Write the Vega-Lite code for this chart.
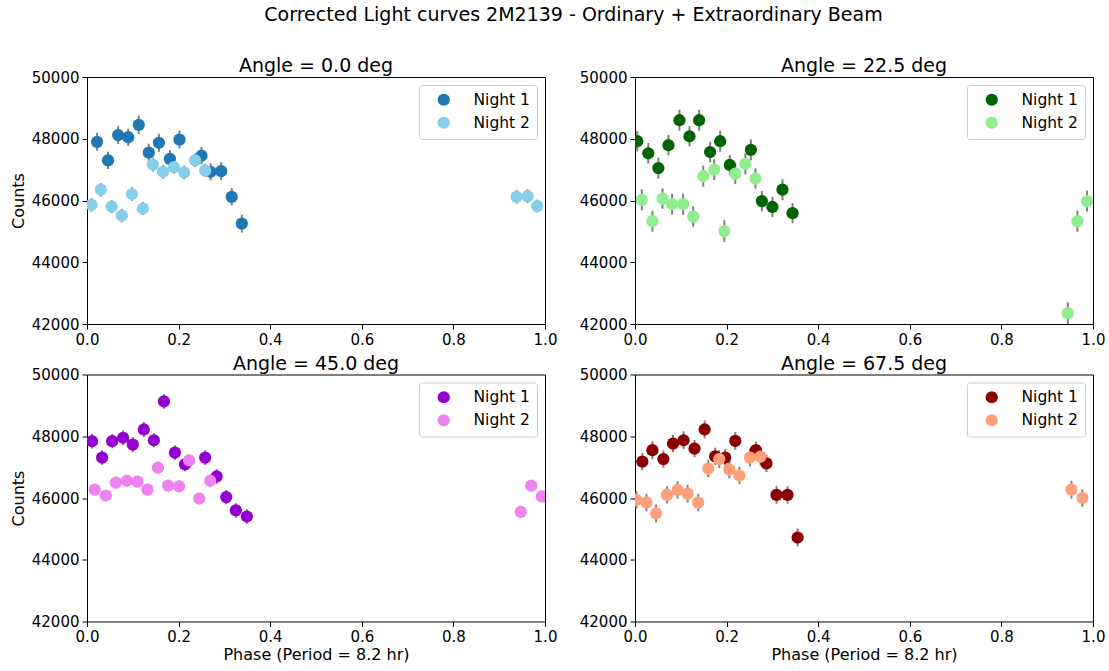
{
  "$schema": "https://vega.github.io/schema/vega-lite/v6.json",
  "autosize": {"type": "none"},
  "padding": {"left": 87, "top": 77, "right": 1022, "bottom": 594},
  "title": {
    "text": "Corrected Light curves 2M2139 - Ordinary + Extraordinary Beam",
    "frame": "group",
    "anchor": "middle",
    "dx": 486.5,
    "offset": 32,
    "fontSize": 19
  },
  "datasets": {
    "lc": [
      {"angle": 0, "night": "Night 1", "phase": 0.022, "counts": 47900, "err": 290},
      {"angle": 0, "night": "Night 1", "phase": 0.046, "counts": 47300, "err": 280},
      {"angle": 0, "night": "Night 1", "phase": 0.068, "counts": 48120, "err": 290},
      {"angle": 0, "night": "Night 1", "phase": 0.090, "counts": 48050, "err": 280},
      {"angle": 0, "night": "Night 1", "phase": 0.113, "counts": 48450, "err": 300},
      {"angle": 0, "night": "Night 1", "phase": 0.135, "counts": 47550, "err": 290},
      {"angle": 0, "night": "Night 1", "phase": 0.157, "counts": 47870, "err": 290},
      {"angle": 0, "night": "Night 1", "phase": 0.181, "counts": 47350, "err": 280},
      {"angle": 0, "night": "Night 1", "phase": 0.202, "counts": 47970, "err": 290},
      {"angle": 0, "night": "Night 1", "phase": 0.250, "counts": 47450, "err": 280},
      {"angle": 0, "night": "Night 1", "phase": 0.270, "counts": 46930, "err": 280},
      {"angle": 0, "night": "Night 1", "phase": 0.293, "counts": 46950, "err": 290},
      {"angle": 0, "night": "Night 1", "phase": 0.316, "counts": 46120, "err": 280},
      {"angle": 0, "night": "Night 1", "phase": 0.338, "counts": 45250, "err": 290},
      {"angle": 0, "night": "Night 2", "phase": 0.010, "counts": 45860, "err": 220},
      {"angle": 0, "night": "Night 2", "phase": 0.030, "counts": 46350, "err": 220},
      {"angle": 0, "night": "Night 2", "phase": 0.054, "counts": 45800, "err": 210},
      {"angle": 0, "night": "Night 2", "phase": 0.076, "counts": 45510, "err": 220},
      {"angle": 0, "night": "Night 2", "phase": 0.098, "counts": 46210, "err": 220},
      {"angle": 0, "night": "Night 2", "phase": 0.122, "counts": 45740, "err": 210},
      {"angle": 0, "night": "Night 2", "phase": 0.144, "counts": 47160, "err": 220},
      {"angle": 0, "night": "Night 2", "phase": 0.166, "counts": 46930, "err": 220},
      {"angle": 0, "night": "Night 2", "phase": 0.190, "counts": 47080, "err": 210},
      {"angle": 0, "night": "Night 2", "phase": 0.212, "counts": 46910, "err": 220},
      {"angle": 0, "night": "Night 2", "phase": 0.236, "counts": 47300, "err": 220},
      {"angle": 0, "night": "Night 2", "phase": 0.258, "counts": 46970, "err": 210},
      {"angle": 0, "night": "Night 2", "phase": 0.938, "counts": 46120, "err": 220},
      {"angle": 0, "night": "Night 2", "phase": 0.962, "counts": 46140, "err": 220},
      {"angle": 0, "night": "Night 2", "phase": 0.983, "counts": 45820, "err": 210},

      {"angle": 22.5, "night": "Night 1", "phase": 0.005, "counts": 47920, "err": 330},
      {"angle": 22.5, "night": "Night 1", "phase": 0.029, "counts": 47530, "err": 330},
      {"angle": 22.5, "night": "Night 1", "phase": 0.051, "counts": 47050, "err": 340},
      {"angle": 22.5, "night": "Night 1", "phase": 0.073, "counts": 47790, "err": 330},
      {"angle": 22.5, "night": "Night 1", "phase": 0.097, "counts": 48600, "err": 340},
      {"angle": 22.5, "night": "Night 1", "phase": 0.119, "counts": 48080, "err": 330},
      {"angle": 22.5, "night": "Night 1", "phase": 0.140, "counts": 48600, "err": 340},
      {"angle": 22.5, "night": "Night 1", "phase": 0.164, "counts": 47570, "err": 330},
      {"angle": 22.5, "night": "Night 1", "phase": 0.186, "counts": 47920, "err": 340},
      {"angle": 22.5, "night": "Night 1", "phase": 0.207, "counts": 47150, "err": 330},
      {"angle": 22.5, "night": "Night 1", "phase": 0.253, "counts": 47640, "err": 340},
      {"angle": 22.5, "night": "Night 1", "phase": 0.277, "counts": 45980, "err": 330},
      {"angle": 22.5, "night": "Night 1", "phase": 0.300, "counts": 45790, "err": 330},
      {"angle": 22.5, "night": "Night 1", "phase": 0.322, "counts": 46350, "err": 340},
      {"angle": 22.5, "night": "Night 1", "phase": 0.344, "counts": 45590, "err": 330},
      {"angle": 22.5, "night": "Night 2", "phase": 0.015, "counts": 46020, "err": 340},
      {"angle": 22.5, "night": "Night 2", "phase": 0.038, "counts": 45330, "err": 340},
      {"angle": 22.5, "night": "Night 2", "phase": 0.060, "counts": 46060, "err": 330},
      {"angle": 22.5, "night": "Night 2", "phase": 0.081, "counts": 45880, "err": 340},
      {"angle": 22.5, "night": "Night 2", "phase": 0.105, "counts": 45880, "err": 340},
      {"angle": 22.5, "night": "Night 2", "phase": 0.127, "counts": 45480, "err": 330},
      {"angle": 22.5, "night": "Night 2", "phase": 0.149, "counts": 46790, "err": 340},
      {"angle": 22.5, "night": "Night 2", "phase": 0.173, "counts": 47000, "err": 340},
      {"angle": 22.5, "night": "Night 2", "phase": 0.195, "counts": 45010, "err": 350},
      {"angle": 22.5, "night": "Night 2", "phase": 0.219, "counts": 46870, "err": 340},
      {"angle": 22.5, "night": "Night 2", "phase": 0.241, "counts": 47190, "err": 340},
      {"angle": 22.5, "night": "Night 2", "phase": 0.263, "counts": 46710, "err": 330},
      {"angle": 22.5, "night": "Night 2", "phase": 0.945, "counts": 42350, "err": 350},
      {"angle": 22.5, "night": "Night 2", "phase": 0.966, "counts": 45330, "err": 340},
      {"angle": 22.5, "night": "Night 2", "phase": 0.987, "counts": 45980, "err": 340},

      {"angle": 45, "night": "Night 1", "phase": 0.011, "counts": 47840, "err": 240},
      {"angle": 45, "night": "Night 1", "phase": 0.033, "counts": 47310, "err": 240},
      {"angle": 45, "night": "Night 1", "phase": 0.055, "counts": 47840, "err": 230},
      {"angle": 45, "night": "Night 1", "phase": 0.079, "counts": 47950, "err": 240},
      {"angle": 45, "night": "Night 1", "phase": 0.100, "counts": 47730, "err": 240},
      {"angle": 45, "night": "Night 1", "phase": 0.124, "counts": 48220, "err": 240},
      {"angle": 45, "night": "Night 1", "phase": 0.146, "counts": 47870, "err": 230},
      {"angle": 45, "night": "Night 1", "phase": 0.168, "counts": 49130, "err": 240},
      {"angle": 45, "night": "Night 1", "phase": 0.192, "counts": 47470, "err": 240},
      {"angle": 45, "night": "Night 1", "phase": 0.214, "counts": 47090, "err": 230},
      {"angle": 45, "night": "Night 1", "phase": 0.258, "counts": 47310, "err": 240},
      {"angle": 45, "night": "Night 1", "phase": 0.283, "counts": 46700, "err": 240},
      {"angle": 45, "night": "Night 1", "phase": 0.304, "counts": 46030, "err": 230},
      {"angle": 45, "night": "Night 1", "phase": 0.325, "counts": 45600, "err": 240},
      {"angle": 45, "night": "Night 1", "phase": 0.349, "counts": 45400, "err": 240},
      {"angle": 45, "night": "Night 2", "phase": 0.017, "counts": 46270, "err": 180},
      {"angle": 45, "night": "Night 2", "phase": 0.041, "counts": 46080, "err": 180},
      {"angle": 45, "night": "Night 2", "phase": 0.063, "counts": 46500, "err": 190},
      {"angle": 45, "night": "Night 2", "phase": 0.087, "counts": 46560, "err": 180},
      {"angle": 45, "night": "Night 2", "phase": 0.110, "counts": 46530, "err": 180},
      {"angle": 45, "night": "Night 2", "phase": 0.132, "counts": 46270, "err": 190},
      {"angle": 45, "night": "Night 2", "phase": 0.155, "counts": 46980, "err": 180},
      {"angle": 45, "night": "Night 2", "phase": 0.177, "counts": 46400, "err": 180},
      {"angle": 45, "night": "Night 2", "phase": 0.201, "counts": 46380, "err": 190},
      {"angle": 45, "night": "Night 2", "phase": 0.223, "counts": 47220, "err": 180},
      {"angle": 45, "night": "Night 2", "phase": 0.245, "counts": 45980, "err": 180},
      {"angle": 45, "night": "Night 2", "phase": 0.269, "counts": 46560, "err": 190},
      {"angle": 45, "night": "Night 2", "phase": 0.947, "counts": 45550, "err": 190},
      {"angle": 45, "night": "Night 2", "phase": 0.970, "counts": 46400, "err": 180},
      {"angle": 45, "night": "Night 2", "phase": 0.993, "counts": 46050, "err": 180},

      {"angle": 67.5, "night": "Night 1", "phase": 0.016, "counts": 47180, "err": 280},
      {"angle": 67.5, "night": "Night 1", "phase": 0.038, "counts": 47550, "err": 290},
      {"angle": 67.5, "night": "Night 1", "phase": 0.062, "counts": 47260, "err": 280},
      {"angle": 67.5, "night": "Night 1", "phase": 0.083, "counts": 47760, "err": 280},
      {"angle": 67.5, "night": "Night 1", "phase": 0.106, "counts": 47870, "err": 290},
      {"angle": 67.5, "night": "Night 1", "phase": 0.130, "counts": 47600, "err": 280},
      {"angle": 67.5, "night": "Night 1", "phase": 0.152, "counts": 48220, "err": 290},
      {"angle": 67.5, "night": "Night 1", "phase": 0.175, "counts": 47350, "err": 280},
      {"angle": 67.5, "night": "Night 1", "phase": 0.197, "counts": 47310, "err": 280},
      {"angle": 67.5, "night": "Night 1", "phase": 0.219, "counts": 47850, "err": 290},
      {"angle": 67.5, "night": "Night 1", "phase": 0.264, "counts": 47550, "err": 280},
      {"angle": 67.5, "night": "Night 1", "phase": 0.287, "counts": 47120, "err": 280},
      {"angle": 67.5, "night": "Night 1", "phase": 0.309, "counts": 46100, "err": 290},
      {"angle": 67.5, "night": "Night 1", "phase": 0.333, "counts": 46100, "err": 280},
      {"angle": 67.5, "night": "Night 1", "phase": 0.355, "counts": 44720, "err": 290},
      {"angle": 67.5, "night": "Night 2", "phase": 0.003, "counts": 45940, "err": 280},
      {"angle": 67.5, "night": "Night 2", "phase": 0.025, "counts": 45850, "err": 280},
      {"angle": 67.5, "night": "Night 2", "phase": 0.046, "counts": 45500, "err": 290},
      {"angle": 67.5, "night": "Night 2", "phase": 0.070, "counts": 46100, "err": 280},
      {"angle": 67.5, "night": "Night 2", "phase": 0.093, "counts": 46260, "err": 280},
      {"angle": 67.5, "night": "Night 2", "phase": 0.115, "counts": 46140, "err": 290},
      {"angle": 67.5, "night": "Night 2", "phase": 0.138, "counts": 45850, "err": 280},
      {"angle": 67.5, "night": "Night 2", "phase": 0.160, "counts": 46950, "err": 280},
      {"angle": 67.5, "night": "Night 2", "phase": 0.184, "counts": 47260, "err": 290},
      {"angle": 67.5, "night": "Night 2", "phase": 0.206, "counts": 46920, "err": 280},
      {"angle": 67.5, "night": "Night 2", "phase": 0.228, "counts": 46730, "err": 280},
      {"angle": 67.5, "night": "Night 2", "phase": 0.251, "counts": 47310, "err": 290},
      {"angle": 67.5, "night": "Night 2", "phase": 0.274, "counts": 47340, "err": 280},
      {"angle": 67.5, "night": "Night 2", "phase": 0.953, "counts": 46270, "err": 290},
      {"angle": 67.5, "night": "Night 2", "phase": 0.977, "counts": 46000, "err": 280}
    ]
  },
  "data": {"name": "lc"},
  "columns": 2,
  "spacing": {"row": 50.5, "column": 90},
  "bounds": "flush",
  "concat": [
    {
      "width": 458,
      "height": 247,
      "title": "Angle = 0.0 deg",
      "transform": [{"filter": "datum.angle == 0"}],
      "encoding": {
        "x": {"field": "phase", "type": "quantitative", "scale": {"domain": [0, 1], "nice": false, "zero": false},
              "axis": {"values": [0, 0.2, 0.4, 0.6, 0.8, 1], "format": ".1f", "title": null}},
        "y": {"field": "counts", "type": "quantitative", "scale": {"domain": [42000, 50000], "nice": false, "zero": false},
              "axis": {"values": [42000, 44000, 46000, 48000, 50000], "format": "d", "title": "Counts"}}
      },
      "layer": [
        {"mark": {"type": "errorbar", "color": "#808080", "thickness": 2}, "encoding": {"yError": {"field": "err"}}},
        {"mark": {"type": "point", "filled": true, "opacity": 1, "size": 150, "clip": true},
         "encoding": {"color": {"field": "night", "type": "nominal", "title": null,
           "scale": {"domain": ["Night 1", "Night 2"], "range": ["#1f77b4", "#87ceeb"]}}}}
      ]
    },
    {
      "width": 458,
      "height": 247,
      "title": "Angle = 22.5 deg",
      "transform": [{"filter": "datum.angle == 22.5"}],
      "encoding": {
        "x": {"field": "phase", "type": "quantitative", "scale": {"domain": [0, 1], "nice": false, "zero": false},
              "axis": {"values": [0, 0.2, 0.4, 0.6, 0.8, 1], "format": ".1f", "title": null}},
        "y": {"field": "counts", "type": "quantitative", "scale": {"domain": [42000, 50000], "nice": false, "zero": false},
              "axis": {"values": [42000, 44000, 46000, 48000, 50000], "format": "d", "title": null}}
      },
      "layer": [
        {"mark": {"type": "errorbar", "color": "#808080", "thickness": 2}, "encoding": {"yError": {"field": "err"}}},
        {"mark": {"type": "point", "filled": true, "opacity": 1, "size": 150, "clip": true},
         "encoding": {"color": {"field": "night", "type": "nominal", "title": null,
           "scale": {"domain": ["Night 1", "Night 2"], "range": ["#006400", "#90ee90"]}}}}
      ]
    },
    {
      "width": 458,
      "height": 247,
      "title": "Angle = 45.0 deg",
      "transform": [{"filter": "datum.angle == 45"}],
      "encoding": {
        "x": {"field": "phase", "type": "quantitative", "scale": {"domain": [0, 1], "nice": false, "zero": false},
              "axis": {"values": [0, 0.2, 0.4, 0.6, 0.8, 1], "format": ".1f", "title": "Phase (Period = 8.2 hr)"}},
        "y": {"field": "counts", "type": "quantitative", "scale": {"domain": [42000, 50000], "nice": false, "zero": false},
              "axis": {"values": [42000, 44000, 46000, 48000, 50000], "format": "d", "title": "Counts"}}
      },
      "layer": [
        {"mark": {"type": "errorbar", "color": "#808080", "thickness": 2}, "encoding": {"yError": {"field": "err"}}},
        {"mark": {"type": "point", "filled": true, "opacity": 1, "size": 150, "clip": true},
         "encoding": {"color": {"field": "night", "type": "nominal", "title": null,
           "scale": {"domain": ["Night 1", "Night 2"], "range": ["#9400d3", "#ee82ee"]}}}}
      ]
    },
    {
      "width": 458,
      "height": 247,
      "title": "Angle = 67.5 deg",
      "transform": [{"filter": "datum.angle == 67.5"}],
      "encoding": {
        "x": {"field": "phase", "type": "quantitative", "scale": {"domain": [0, 1], "nice": false, "zero": false},
              "axis": {"values": [0, 0.2, 0.4, 0.6, 0.8, 1], "format": ".1f", "title": "Phase (Period = 8.2 hr)"}},
        "y": {"field": "counts", "type": "quantitative", "scale": {"domain": [42000, 50000], "nice": false, "zero": false},
              "axis": {"values": [42000, 44000, 46000, 48000, 50000], "format": "d", "title": null}}
      },
      "layer": [
        {"mark": {"type": "errorbar", "color": "#808080", "thickness": 2}, "encoding": {"yError": {"field": "err"}}},
        {"mark": {"type": "point", "filled": true, "opacity": 1, "size": 150, "clip": true},
         "encoding": {"color": {"field": "night", "type": "nominal", "title": null,
           "scale": {"domain": ["Night 1", "Night 2"], "range": ["#8b0000", "#ffa07a"]}}}}
      ]
    }
  ],
  "resolve": {"scale": {"color": "independent", "x": "independent", "y": "independent"}, "legend": {"color": "independent"}},
  "config": {
    "font": "DejaVu Sans",
    "background": "white",
    "view": {"stroke": "black", "strokeWidth": 1},
    "title": {"fontSize": 19, "fontWeight": "normal", "color": "black", "offset": -6},
    "axis": {
      "domain": false,
      "grid": false,
      "ticks": true,
      "tickColor": "black",
      "tickSize": 5,
      "tickWidth": 1,
      "labelFontSize": 15,
      "labelColor": "black",
      "labelPadding": 3,
      "labelFlush": false,
      "labelOverlap": false,
      "titleFontSize": 16,
      "titleFontWeight": "normal",
      "titleColor": "black"
    },
    "axisX": {"titlePadding": 2},
    "axisY": {"titlePadding": 5},
    "legend": {
      "orient": "top-right",
      "offset": 8,
      "padding": 7,
      "strokeColor": "#cccccc",
      "fillColor": "rgba(255,255,255,0.8)",
      "cornerRadius": 3,
      "symbolType": "circle",
      "symbolSize": 150,
      "symbolOffset": 10,
      "symbolStrokeWidth": 0,
      "labelFontSize": 15.5,
      "labelColor": "black",
      "labelOffset": 22,
      "rowPadding": 6
    }
  }
}
